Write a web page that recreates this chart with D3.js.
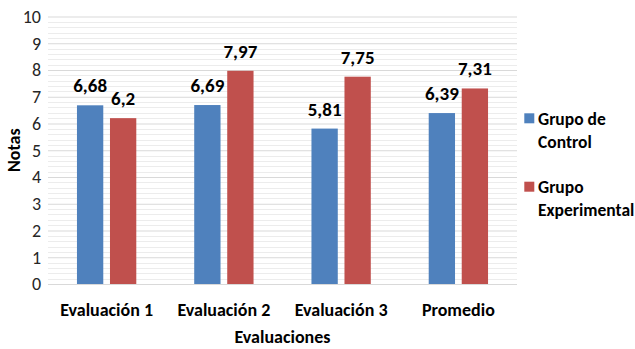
<!DOCTYPE html>
<html>
<head>
<meta charset="utf-8">
<script src="https://cdn.jsdelivr.net/npm/d3@7"></script>
<style>
  html, body { margin: 0; padding: 0; background: #fff; }
  svg { display: block; font-family: Carlito, Calibri, Lato, "Open Sans", sans-serif; }
</style>
</head>
<body>
<svg id="chart" width="635" height="349"></svg>
<script>
// Notas promedio por evaluación, grupo de control vs. grupo experimental
const categories = ["Evaluación 1", "Evaluación 2", "Evaluación 3", "Promedio"];
const seriesNames = ["Grupo de Control", "Grupo Experimental"];
const legendLines = [["Grupo de", "Control"], ["Grupo", "Experimental"]];
const controlValues = [6.68, 6.69, 5.81, 6.39];
const experimentalValues = [6.2, 7.97, 7.75, 7.31];
const yTickValues = [0, 1, 2, 3, 4, 5, 6, 7, 8, 9, 10];
const seriesColors = ["#4f81bd", "#c0504d"];

const svg = d3.select("#chart");

const plot = { left: 48, right: 517, top: 16.5, bottom: 284 };

const x = d3.scaleBand()
  .domain(categories)
  .range([plot.left, plot.right])
  .paddingInner(0.494)
  .paddingOuter(0.247);

const xs = d3.scaleBand()
  .domain(seriesNames)
  .range([0, x.bandwidth()])
  .paddingInner(0.203);

const y = d3.scaleLinear().domain([0, 10]).range([plot.bottom, plot.top]);

// minor gridlines every 0.2
svg.append("g")
  .selectAll("line")
  .data(d3.range(0, 50).map(i => i * 0.2).filter(v => Math.abs(v - Math.round(v)) > 1e-6))
  .join("line")
  .attr("x1", plot.left).attr("x2", plot.right)
  .attr("y1", d => Math.round(y(d)) + 0.5).attr("y2", d => Math.round(y(d)) + 0.5)
  .attr("stroke", "#ececec").attr("stroke-width", 1);

// major gridlines with the tick labels
const yAxis = d3.axisLeft(y).tickValues(yTickValues).tickSize(-(plot.right - plot.left)).tickPadding(7).tickFormat(d3.format("d"));
const gy = svg.append("g").attr("transform", `translate(${plot.left},0)`).call(yAxis);
gy.select(".domain").remove();
gy.selectAll(".tick line").attr("stroke", "#d9d9d9");
gy.selectAll(".tick text")
  .attr("fill", "#262626")
  .style("font-family", "Carlito, Calibri, Lato, sans-serif")
  .style("font-size", "18px");

// bars
const data = categories.map((c, i) => ({ cat: c, values: [controlValues[i], experimentalValues[i]] }));
const groups = svg.append("g").selectAll("g")
  .data(data)
  .join("g")
  .attr("transform", d => `translate(${x(d.cat)},0)`);

groups.selectAll("rect")
  .data(d => d.values.map((v, k) => ({ series: seriesNames[k], k, v })))
  .join("rect")
  .attr("x", d => xs(d.series))
  .attr("width", xs.bandwidth())
  .attr("y", d => y(d.v))
  .attr("height", d => y(0) - y(d.v))
  .attr("fill", d => seriesColors[d.k]);

// value labels
groups.selectAll("text.val")
  .data(d => d.values.map((v, k) => ({ series: seriesNames[k], k, v })))
  .join("text")
  .attr("class", "val")
  .attr("x", d => xs(d.series) + xs.bandwidth() / 2)
  .attr("y", d => y(d.v) - 13)
  .attr("text-anchor", "middle")
  .attr("font-weight", "bold")
  .attr("font-size", 19)
  .attr("fill", "#000")
  .text(d => String(d.v).replace(".", ","));

// category labels
const xAxis = d3.axisBottom(x).tickSize(0).tickPadding(0);
const gx = svg.append("g").attr("transform", `translate(0,${plot.bottom})`).call(xAxis);
gx.select(".domain").remove();
gx.selectAll(".tick text")
  .attr("dy", null)
  .attr("y", 32)
  .attr("fill", "#000")
  .style("font-family", "Carlito, Calibri, Lato, sans-serif")
  .style("font-size", "18px")
  .style("font-weight", "bold");

// axis titles
svg.append("text")
  .attr("x", (plot.left + plot.right) / 2)
  .attr("y", 343)
  .attr("text-anchor", "middle")
  .attr("font-weight", "bold")
  .attr("font-size", 18)
  .text("Evaluaciones");

svg.append("text")
  .attr("transform", `translate(20,${(plot.top + plot.bottom) / 2}) rotate(-90)`)
  .attr("text-anchor", "middle")
  .attr("font-weight", "bold")
  .attr("font-size", 18)
  .text("Notas");

// legend
const legend = svg.append("g");
const legendTop = [113.3, 181.7];
legendLines.forEach((lines, k) => {
  legend.append("rect")
    .attr("x", 524.3).attr("y", legendTop[k])
    .attr("width", 10).attr("height", 10)
    .attr("fill", seriesColors[k]);
  const t = legend.append("text")
    .attr("x", 538)
    .attr("y", legendTop[k] + 11.7)
    .attr("font-weight", "bold")
    .attr("font-size", 17.5);
  lines.forEach((ln, j) => {
    t.append("tspan").attr("x", 538).attr("dy", j === 0 ? 0 : 22.7).text(ln);
  });
});
</script>
</body>
</html>
